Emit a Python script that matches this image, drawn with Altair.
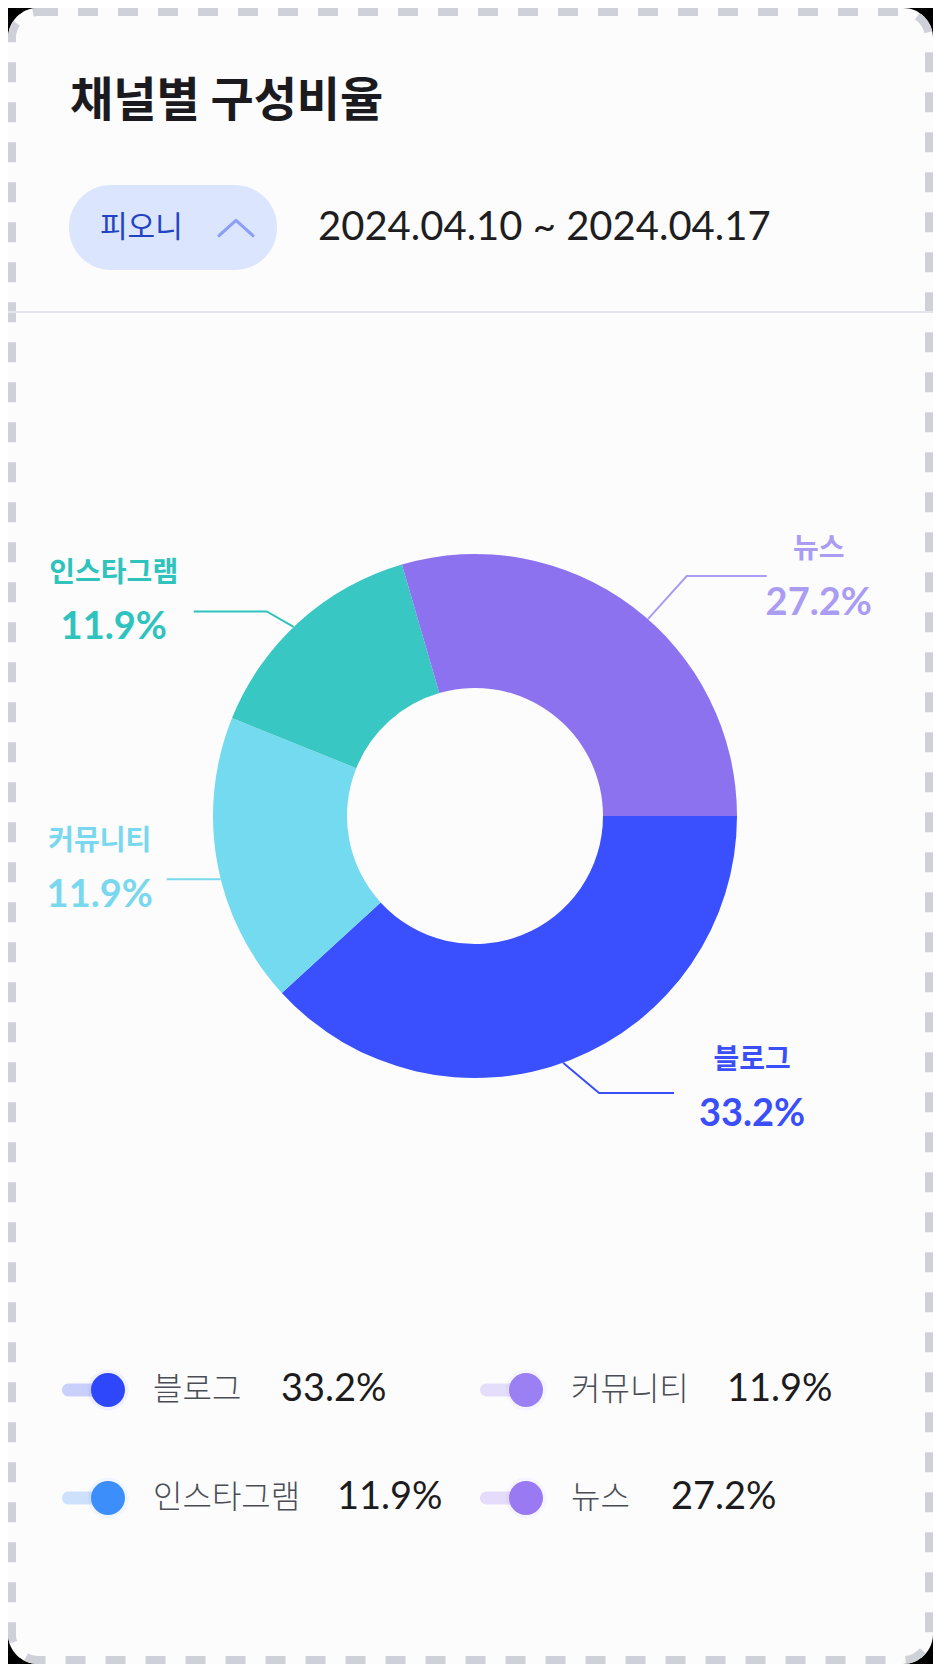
import math
import altair as alt
import pandas as pd

# ---------------- data ----------------
channels = ["블로그", "커뮤니티", "인스타그램", "뉴스"]
slice_values = [38.2, 17.9, 14.4, 29.5]
pct_values = [33.2, 11.9, 11.9, 27.2]            # printed percentages
slice_colors = ["#3a50ff", "#74daef", "#38c7c3", "#8c72ee"]
label_colors = ["#3a4ffa", "#7ad8ee", "#2ec3bd", "#a99cf2"]
legend_colors = ["#2f47fb", "#9b80f3", "#3c8ffb", "#9a7af2"]

title_text = "채널별 구성비율"
filter_text = "피오니"
date_text = "2024.04.10 ~ 2024.04.17"

# ---------------- layout ----------------
W, H = 925, 1656
CX, CY = 467, 808
R_OUT, R_IN = 262, 128
FONT_KR = "Noto Sans CJK KR"
FONT_NUM = "Lato, Noto Sans CJK KR"

# leader line style per slice: angle nudge (deg), first segment length and slope
# (deg from horizontal), horizontal length, text offset, extra vertical label shift
lead_nudge = [1.6, -3.7, -1.7, 4.4]
lead_len1 = [47, 0, 31, 58]
lead_slope = [40, 0, 30, 48]
lead_len2 = [75, 54, 73, 80]
text_off = [78, 67, 80, 52]
text_shift = [5, 0, 0, 11]

xs = alt.Scale(domain=[0, W], range=[0, W], nice=False, zero=False)
ys = alt.Scale(domain=[0, H], range=[0, H], nice=False, zero=False)
X = lambda f: alt.X(f, type="quantitative", scale=xs, axis=None)
Y = lambda f: alt.Y(f, type="quantitative", scale=ys, axis=None)
X2 = lambda f: alt.X2(f)
Y2 = lambda f: alt.Y2(f)

one = pd.DataFrame({"a": [0]})

# card background (rounded, black outside corners) and dashed border
card = alt.Chart(one).mark_rect(fill="#fcfcfd", cornerRadius=30).encode(
    x=alt.value(0), x2=alt.value(W), y=alt.value(0), y2=alt.value(H))
border = alt.Chart(one).mark_rect(
    fill=None, fillOpacity=0, stroke="#cfd1d8", strokeWidth=8, strokeDash=[20, 20],
    cornerRadius=26,
).encode(x=alt.value(4), x2=alt.value(W - 4), y=alt.value(4), y2=alt.value(H - 4))

title = alt.Chart(one).mark_text(
    text=title_text, font=FONT_KR, fontSize=47, fontWeight="bold", color="#1b1b1f",
    align="left", baseline="middle",
).encode(x=alt.value(62), y=alt.value(94))

pill = alt.Chart(one).mark_rect(fill="#dbe5fd", cornerRadius=42).encode(
    x=alt.value(61), x2=alt.value(269), y=alt.value(177), y2=alt.value(262))

pill_text = alt.Chart(one).mark_text(
    text=filter_text, font=FONT_KR, fontSize=30, color="#2143c4",
    align="left", baseline="middle",
).encode(x=alt.value(92), y=alt.value(220))

chevron = alt.Chart(one).mark_point(
    shape="M-1,0.45L0,-0.45L1,0.45", filled=False, size=1150, strokeWidth=3.2,
    color="#8c9ff6", strokeCap="round", strokeJoin="round", opacity=1,
).encode(x=alt.value(228), y=alt.value(220))

date = alt.Chart(one).mark_text(
    text=date_text, font=FONT_NUM, fontSize=40, color="#1e1e22",
    align="left", baseline="middle",
).encode(x=alt.value(310), y=alt.value(220))

divider = alt.Chart(one).mark_rule(color="#e4e5ea", strokeWidth=2).encode(
    x=alt.value(0), x2=alt.value(W), y=alt.value(304))

# ---------------- donut ----------------
donut_df = pd.DataFrame({
    "channel": channels, "value": slice_values, "ord": list(range(len(channels))),
})
donut = alt.Chart(donut_df).mark_arc(innerRadius=R_IN, outerRadius=R_OUT).encode(
    theta=alt.Theta("value:Q", stack=True,
                    scale=alt.Scale(range=[math.pi / 2, math.pi / 2 + 2 * math.pi])),
    color=alt.Color("channel:N", scale=alt.Scale(domain=channels, range=slice_colors), legend=None),
    order=alt.Order("ord:Q"),
    x=alt.value(CX), y=alt.value(CY),
)

# leader lines & labels computed from slice values
total = sum(slice_values)
line_rows, lab_rows = [], []
cum = 90.0
for i, (ch, v) in enumerate(zip(channels, slice_values)):
    span = v / total * 360.0
    mid = math.radians(cum + span / 2 + lead_nudge[i])
    cum += span
    sx, sy = CX + R_OUT * math.sin(mid), CY - R_OUT * math.cos(mid)
    side = 1 if math.sin(mid) >= 0 else -1
    vdir = 1 if -math.cos(mid) >= 0 else -1
    sl = math.radians(lead_slope[i])
    ex = sx + side * lead_len1[i] * math.cos(sl)
    ey = sy + vdir * lead_len1[i] * math.sin(sl)
    fx, fy = ex + side * lead_len2[i], ey
    for k, (px, py) in enumerate([(sx, sy), (ex, ey), (fx, fy)]):
        line_rows.append({"channel": ch, "k": k, "x": px, "y": py, "c": label_colors[i]})
    tx = fx + side * text_off[i]
    ty = fy + text_shift[i]
    lab_rows.append({"channel": ch, "x": tx, "yn": ty - 37, "yp": ty + 17,
                     "pct": f"{pct_values[i]:.1f}%", "c": label_colors[i]})

line_df = pd.DataFrame(line_rows)
lab_df = pd.DataFrame(lab_rows)

leaders = alt.Chart(line_df).mark_line(strokeWidth=2).encode(
    x=X("x"), y=Y("y"), detail="channel:N", order="k:Q",
    color=alt.Color("c:N", scale=None),
)
lab_name = alt.Chart(lab_df).mark_text(
    font=FONT_KR, fontSize=28, fontWeight="bold", align="center", baseline="middle",
).encode(x=X("x"), y=Y("yn"), text="channel:N", color=alt.Color("c:N", scale=None))
lab_pct = alt.Chart(lab_df).mark_text(
    font=FONT_NUM, fontSize=38, fontWeight="bold", align="center", baseline="middle",
).encode(x=X("x"), y=Y("yp"), text="pct:N", color=alt.Color("c:N", scale=None))

# ---------------- legend ----------------
leg_rows = []
for i, ch in enumerate(channels):
    row, col = i // 2, i % 2
    x0 = 54 + col * 418
    dot_x = x0 + 46
    name_x = dot_x + 45
    val_x = name_x + len(ch) * 28 + 44
    yy = 1382 + row * 108
    leg_rows.append({"channel": ch, "pct": f"{pct_values[i]:.1f}%", "c": legend_colors[i],
                     "x0": x0, "dx": dot_x, "nx": name_x, "vx": val_x,
                     "y": yy, "y0": yy - 6.5, "y1": yy + 6.5})
leg_df = pd.DataFrame(leg_rows)

leg_glow = alt.Chart(leg_df).mark_point(filled=True, size=1700, opacity=0.06, shape="circle").encode(
    x=X("dx"), y=Y("y"), color=alt.Color("c:N", scale=None))
leg_pill = alt.Chart(leg_df).mark_rect(cornerRadius=6.5, opacity=0.24).encode(
    x=X("x0"), x2=X2("dx"), y=Y("y0"), y2=Y2("y1"), color=alt.Color("c:N", scale=None))
leg_dot = alt.Chart(leg_df).mark_point(filled=True, size=1156, opacity=1, shape="circle").encode(
    x=X("dx"), y=Y("y"), color=alt.Color("c:N", scale=None))
leg_name = alt.Chart(leg_df).mark_text(
    font=FONT_KR, fontSize=32, fontWeight=300, color="#4a4d55", align="left", baseline="middle",
).encode(x=X("nx"), y=Y("y"), text="channel:N")
leg_val = alt.Chart(leg_df).mark_text(
    font=FONT_NUM, fontSize=38, color="#1c1c20", align="left", baseline="middle",
).encode(x=X("vx"), y=Y("y"), text="pct:N")

chart = alt.layer(
    card, border, title, pill, pill_text, chevron, date, divider,
    donut, leaders, lab_name, lab_pct,
    leg_glow, leg_pill, leg_dot, leg_name, leg_val,
).resolve_scale(color="independent").properties(
    width=W, height=H, padding=0, background="#000000",
    autosize=alt.AutoSizeParams(type="none"),
).configure_view(stroke=None)

chart.save("out.html", embed_options={"renderer": "svg", "actions": False})
